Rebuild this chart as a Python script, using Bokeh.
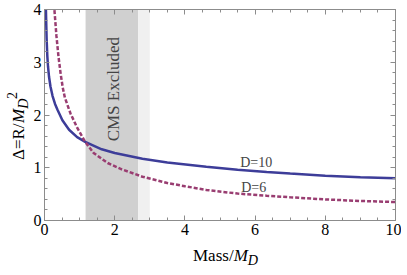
import math
from bokeh.plotting import figure
from bokeh.models import Range1d, LinearAxis, SingleIntervalTicker, Label, ColumnDataSource, Div
from bokeh.layouts import row, column
from bokeh.embed import file_html
from bokeh.resources import INLINE

# ---- data ----
mass_d10 = [0.035, 0.06, 0.08, 0.10, 0.13, 0.17, 0.23, 0.30, 0.37, 0.51, 0.70, 0.93, 1.16,
            1.63, 2.00, 2.79, 3.50, 4.61, 5.50, 6.33, 7.00, 8.00, 9.00, 10.0]
delta_d10 = [4.15, 3.45, 3.12, 2.92, 2.72, 2.54, 2.36, 2.21, 2.10, 1.90, 1.72, 1.58, 1.49,
             1.35, 1.28, 1.17, 1.10, 1.02, 0.96, 0.92, 0.89, 0.85, 0.82, 0.80]

mass_d6 = [0.27, 0.34, 0.40, 0.46, 0.52, 0.58, 0.74, 0.93, 1.16, 1.40, 1.80,
           2.20, 2.79, 3.50, 4.00, 4.61, 5.50, 6.33, 7.00, 8.00, 9.00, 10.0]
delta_d6 = [4.10, 3.50, 3.10, 2.78, 2.52, 2.33, 2.03, 1.76, 1.49, 1.28, 1.09,
            0.97, 0.83, 0.71, 0.65, 0.58, 0.51, 0.47, 0.44, 0.40, 0.37, 0.35]

band_left = [1.17, 2.67]
band_right = [2.67, 3.00]
band_bottom = [0.0, 0.0]
band_top = [4.0, 4.0]
band_colors = ["#d0d0d0", "#f0f0f0"]

x_range = (0, 10)
y_range = (0, 4)

x_label_html = "Mass/<i>M<sub>D</sub></i>"
y_label_html = "Δ=R/<i>M<sub>D</sub></i><sup>2</sup>"

FONT = "Liberation Serif"
AXIS_COLOR = "#8c8c8c"
BLUE = "#3d3d99"
PURPLE = "#993d71"

FIG_W, FIG_H = 371, 242
YLAB_W = 20
XLAB_H = 17

p = figure(width=FIG_W, height=FIG_H, x_range=Range1d(*x_range), y_range=Range1d(*y_range),
           output_backend="svg", toolbar_location=None,
           min_border_left=12, min_border_right=6, min_border_top=9, min_border_bottom=22)
p.xgrid.visible = False
p.ygrid.visible = False
p.outline_line_color = None
p.background_fill_color = "white"
p.border_fill_color = "white"

bottom_axis = p.xaxis[0]
left_axis = p.yaxis[0]

bands = ColumnDataSource(dict(left=band_left, right=band_right, bottom=band_bottom,
                              top=band_top, color=band_colors))
p.quad(left="left", right="right", bottom="bottom", top="top", fill_color="color",
       line_color=None, source=bands)

p.line(mass_d10, delta_d10, line_color=BLUE, line_width=2.5)
p.line(mass_d6, delta_d6, line_color=PURPLE, line_width=2.5, line_dash="4 2")

bottom_axis.ticker = SingleIntervalTicker(interval=2, num_minor_ticks=4)
left_axis.ticker = SingleIntervalTicker(interval=1, num_minor_ticks=5)

top_axis = LinearAxis(ticker=SingleIntervalTicker(interval=2, num_minor_ticks=4))
right_axis = LinearAxis(ticker=SingleIntervalTicker(interval=1, num_minor_ticks=5))
p.add_layout(top_axis, "above")
p.add_layout(right_axis, "right")

for ax in [bottom_axis, left_axis, top_axis, right_axis]:
    ax.axis_line_color = AXIS_COLOR
    ax.major_tick_line_color = AXIS_COLOR
    ax.minor_tick_line_color = AXIS_COLOR
    ax.major_tick_in = 5
    ax.major_tick_out = 0
    ax.minor_tick_in = 3
    ax.minor_tick_out = 0
    ax.major_label_text_font = FONT
    ax.major_label_text_color = "black"
    ax.major_label_text_font_size = "16px"
    ax.major_label_standoff = 3

for ax in [top_axis, right_axis]:
    ax.major_label_text_color = None
    ax.major_label_text_font_size = "1px"
    ax.major_label_standoff = 0

def txt(x, y, text, size, angle=0.0, align="center", baseline="middle"):
    p.add_layout(Label(x=x, y=y, text=text, angle=angle, text_font=FONT,
                       text_font_size=size, text_align=align, text_baseline=baseline))

txt(1.96, 2.49, "CMS Excluded", "17px", angle=math.pi / 2)
txt(6.03, 1.10, "D=10", "14px")
txt(5.96, 0.63, "D=6", "14px")

# axis titles as real HTML text (italic M_D, superscript 2)
xlab = Div(width=FIG_W, height=XLAB_H, text=(
    "<div style=\"font-family:'Liberation Serif'; font-size:17px; line-height:1;"
    " padding-left:158px; padding-top:0px; white-space:nowrap; color:black;\">"
    + x_label_html + "</div>"))

ylab = Div(width=YLAB_W, height=FIG_H, text=(
    "<div style=\"writing-mode:vertical-rl; transform:rotate(180deg);"
    " font-family:'Liberation Serif'; font-size:17px; line-height:1; white-space:nowrap;"
    " width:20px; height:242px; box-sizing:border-box; padding-top:87px; color:black;\">"
    + y_label_html + "</div>"))

root = row(ylab, column(p, xlab))

open("out.html", "w").write(file_html(root, INLINE))
